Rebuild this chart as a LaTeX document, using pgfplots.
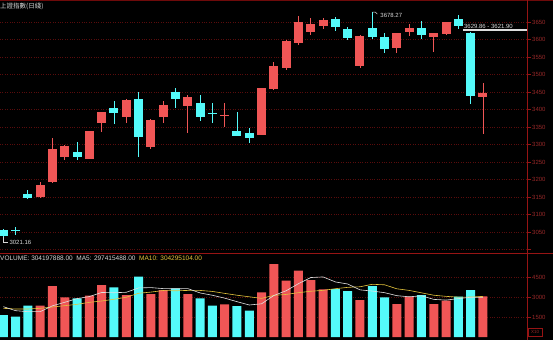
\documentclass[border=0pt]{standalone}
\usepackage{fontspec}
\setmainfont{Liberation Sans}
\newfontfamily\cjk{Noto Sans CJK TC}
\usepackage{pgfplots}
\pgfplotsset{compat=1.18}
\usepackage{pgfplotstable}
\definecolor{cup}{RGB}{240,86,86}
\definecolor{cdn}{RGB}{84,250,250}
\definecolor{frame}{RGB}{150,20,20}
\definecolor{topline}{RGB}{110,10,10}
\definecolor{gridc}{RGB}{90,12,12}
\definecolor{ticklab}{RGB}{150,40,40}
\definecolor{ma5}{RGB}{225,225,225}
\definecolor{ma10}{RGB}{228,196,60}
\definecolor{txt}{RGB}{215,215,215}

% price candles: index, open, high, low, close
\pgfplotstableread{
x o h l c
3 3150 3193 3147 3184
4 3194 3319 3190 3287
5 3263 3298 3256 3296
7 3258 3339 3258 3339
8 3361 3393 3337 3392
10 3379 3430 3361 3427
12 3292 3372 3286 3370
13 3379 3425 3361 3413
15 3410 3441 3332 3437
18 3384 3419 3349 3384
21 3327 3461 3327 3461
22 3459 3535 3455 3524
23 3518 3600 3513 3596
24 3590 3667 3585 3650
25 3621 3661 3613 3644
26 3640 3662 3630 3655
29 3524 3612 3520 3610
32 3575 3620 3562 3619
33 3622 3643 3610 3632
35 3606 3620 3565 3619
36 3616 3650 3613 3649
39 3437 3475 3330 3448
}\uptab
\pgfplotstableread{
x o h l c
0 3056 3058 3021.16 3039
1 3054 3065 3041 3054
2 3160 3170 3143 3148
6 3279 3308 3256 3263
9 3403 3425 3358 3389
11 3430 3451 3265 3322
14 3451 3461 3403 3430
16 3418 3441 3368 3378
17 3389 3418 3362 3389
19 3339 3394 3325 3325
20 3332 3346 3303 3319
27 3660 3665 3625 3636
28 3630 3635 3598 3605
30 3633 3678.27 3601 3606
31 3608 3618 3562 3572
34 3632 3654 3601 3613
37 3660 3670 3629.86 3638
38 3618 3621.90 3415 3439
}\dntab
\pgfplotstableread{
x c
18 3384
}\dojiup
\pgfplotstableread{
x c
1 3054
17 3389
}\dojidn
% volume (x 10^5)
\pgfplotstableread{
x v
3 2350
4 3825
5 2975
7 3100
8 3900
10 3150
12 3225
13 3525
15 3225
18 2450
21 3350
22 5475
23 4225
24 4975
25 4275
26 3575
29 2775
32 2475
33 3025
35 2475
36 2725
39 3042
}\volup
\pgfplotstableread{
x v
0 1650
1 1525
2 2350
6 2900
9 3725
11 4525
14 3650
16 2900
17 2350
19 2325
20 1975
27 3600
28 3450
30 3825
31 2975
34 3150
37 3025
38 3525
}\voldn
\pgfplotstableread{
x a b
0 2275 2150
1 1975 2100
2 1900 2100
3 1900 2150
4 2340 2250
5 2605 2350
6 2880 2450
7 3030 2600
8 3340 2700
9 3320 2830
10 3355 2980
11 3680 3280
12 3705 3368
13 3630 3485
14 3615 3468
15 3630 3493
16 3305 3493
17 3130 3418
18 2915 3273
19 2650 3133
20 2400 3015
21 2490 2898
22 3115 3123
23 3470 3193
24 4000 3325
25 4460 3430
26 4505 3498
27 4130 3623
28 3975 3723
29 3535 3768
30 3445 3953
31 3325 3915
32 3100 3615
33 3015 3495
34 3090 3313
35 2820 3133
36 2770 3048
37 2880 2990
38 2980 2998
39 2974 3043
}\matab

\pgfplotsset{
  kaxis/.style={
    scale only axis, anchor=south west,
    xmin=-0.268, xmax=42.58,
    axis line style={draw=none},
    xtick=\empty,
    ytick pos=right, yticklabel pos=right,
    tick align=outside, major tick length=4pt,
    tick style={frame, line width=0.5pt},
    ymajorgrids, major grid style={gridc, dotted, line width=0.5pt},
    yticklabel style={font=\fontsize{6}{6}\selectfont, text=ticklab, inner sep=1pt},
    /pgf/number format/1000 sep={},
    /pgf/number format/assume math mode=true,
    scaled y ticks=false,
  },
  wick/.style={draw=none, mark=none, forget plot,
    error bars/.cd, y dir=both, y explicit, error mark=none,
    error bar style={draw=#1, line width=0.9pt}},
  body/.style={draw=none, mark=none, forget plot,
    error bars/.cd, y dir=both, y explicit, error mark=none,
    error bar style={draw=#1, line width=9pt}},
}

\begin{document}
\begin{tikzpicture}[x=1pt,y=1pt]
\fill[black] (0pt,0pt) rectangle (553pt,340pt);

% ---------- price panel ----------
\begin{axis}[kaxis, at={(0pt,90pt)}, width=527pt, height=245pt,
  ymin=2998.6, ymax=3698.6,
  ytick={3050,3100,...,3650},
  extra y ticks={3000}, extra y tick labels={},
]
\addplot[wick=cup] table[x=x, y expr=(\thisrow{h}+\thisrow{l})/2, y error expr=(\thisrow{h}-\thisrow{l})/2] {\uptab};
\addplot[wick=cdn] table[x=x, y expr=(\thisrow{h}+\thisrow{l})/2, y error expr=(\thisrow{h}-\thisrow{l})/2] {\dntab};
\addplot[body=cup] table[x=x, y expr=(\thisrow{o}+\thisrow{c})/2, y error expr=abs(\thisrow{c}-\thisrow{o})/2] {\uptab};
\addplot[body=cdn] table[x=x, y expr=(\thisrow{o}+\thisrow{c})/2, y error expr=abs(\thisrow{c}-\thisrow{o})/2] {\dntab};
\addplot[only marks, mark=-, mark size=4.5pt, mark options={draw=cup, line width=0.9pt}] table[x=x,y=c] {\dojiup};
\addplot[only marks, mark=-, mark size=4.5pt, mark options={draw=cdn, line width=0.9pt}] table[x=x,y=c] {\dojidn};

% annotations
\draw[txt, line width=0.5pt] (axis cs:0,3036) -- (axis cs:0,3021.16) -- ++(5pt,0pt)
  node[right, inner sep=1pt, font=\fontsize{6}{6}\selectfont, text=txt] {3021.16};
\draw[txt, line width=0.5pt] (axis cs:30,3678.27) -- ++(3pt,0pt) -- ++(2pt,-2pt);
\node[right, inner sep=0pt, font=\fontsize{6}{6}\selectfont, text=txt] at ([xshift=8pt,yshift=-3pt]axis cs:30,3678.27) {3678.27};
\draw[txt!85, line width=1.3pt] (axis cs:37.37,3627) -- (axis cs:42.58,3627);
\node[above right, inner sep=1pt, font=\fontsize{6}{6}\selectfont, text=txt] at (axis cs:37.37,3628) {3629.86 - 3621.90};
\end{axis}

% ---------- volume panel ----------
\begin{axis}[kaxis, at={(0pt,3pt)}, width=527pt, height=75pt,
  ymin=0, ymax=5625,
  ytick={1500,3000,4500},
]
\addplot[ybar, bar width=9pt, bar shift=0pt, fill=cup, draw=none, forget plot] table[x=x,y=v] {\volup};
\addplot[ybar, bar width=9pt, bar shift=0pt, fill=cdn, draw=none, forget plot] table[x=x,y=v] {\voldn};
\addplot[ma10, line width=0.6pt, mark=none] table[x=x,y=b] {\matab};
\addplot[ma5, line width=0.6pt, mark=none] table[x=x,y=a] {\matab};
\end{axis}

% ---------- frame and texts ----------
\draw[topline, line width=1pt] (0pt,339.3pt) -- (553pt,339.3pt);
\draw[frame, line width=0.8pt] (527pt,0pt) -- (527pt,340pt);
\draw[frame, line width=0.8pt] (0pt,87pt) -- (553pt,87pt);
\node[anchor=west, inner sep=0pt, font=\fontsize{6.5}{6.5}\selectfont\cjk, text=txt] at (0pt,333.5pt) {上證指數(日綫)};
\node[anchor=west, inner sep=0pt, font=\fontsize{6.5}{6.5}\selectfont, text=txt] at (0pt,82pt)
  {VOLUME: 304197888.00 \ MA5: 297415488.00 \ \textcolor{ma10}{MA10: 304295104.00}};
\draw[frame, line width=0.5pt] (528.5pt,4pt) rectangle (542pt,12pt);
\node[inner sep=0pt, font=\fontsize{4.5}{4.5}\selectfont, text=ticklab] at (535.2pt,8pt) {X10};

\pgfresetboundingbox
\path[use as bounding box] (0pt,0pt) rectangle (553pt,340pt);
\end{tikzpicture}
\end{document}
